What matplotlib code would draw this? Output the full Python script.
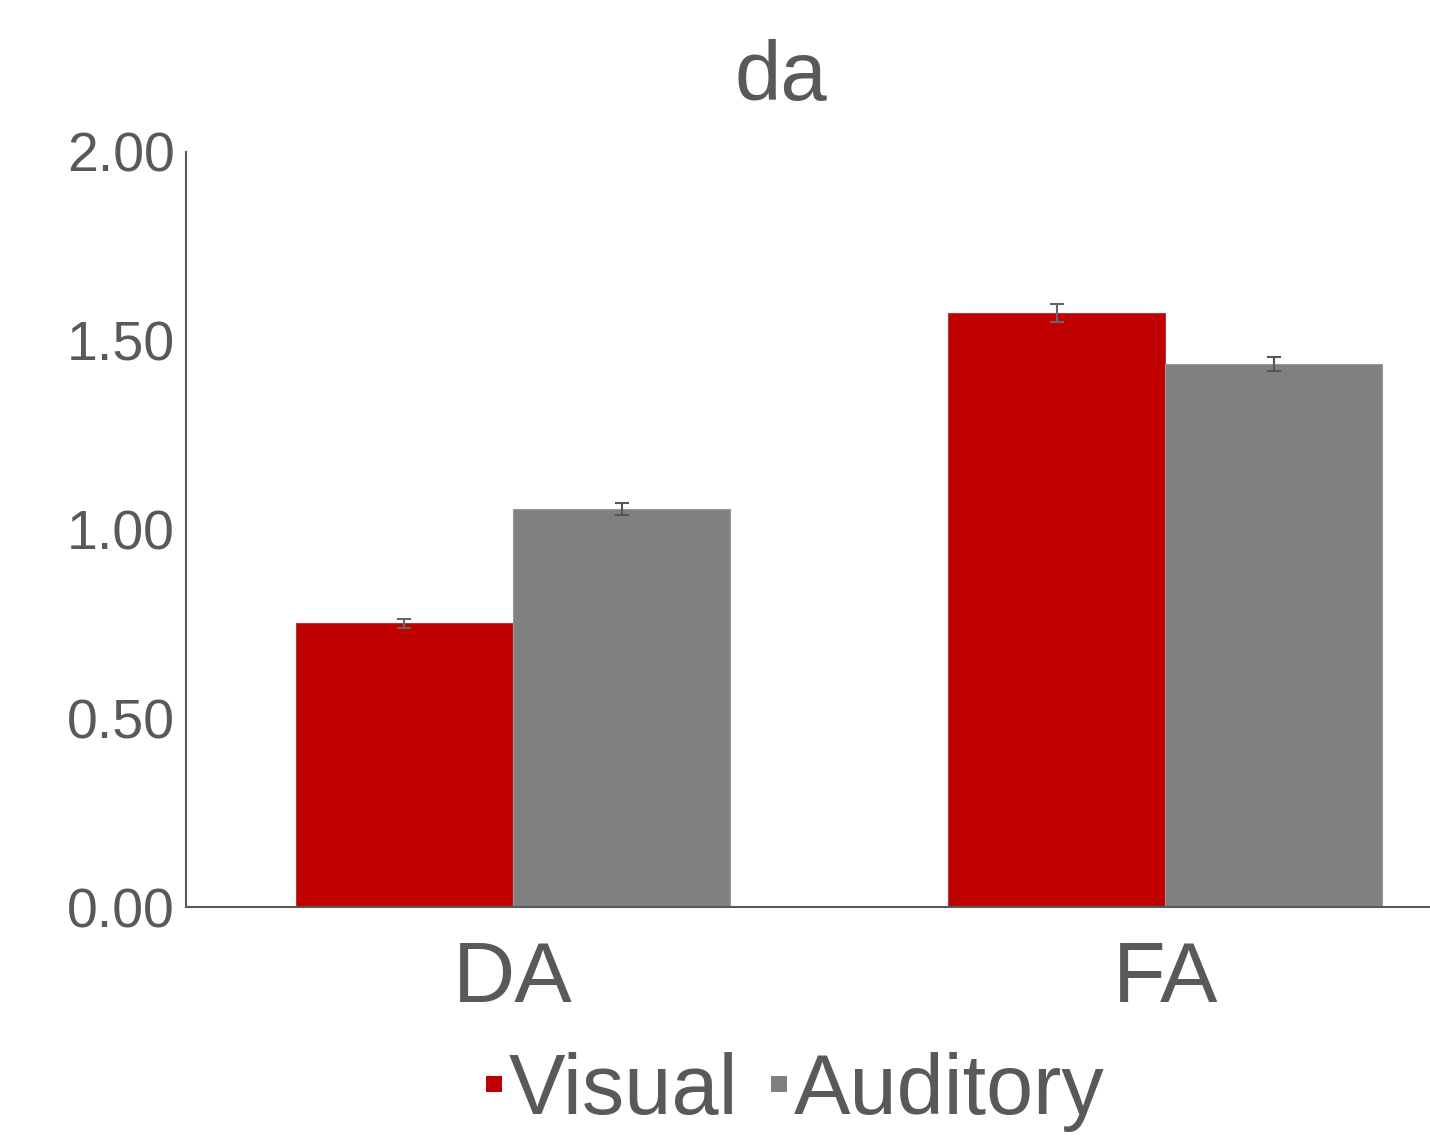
import matplotlib
matplotlib.use("Agg")
import matplotlib.pyplot as plt
from matplotlib.lines import Line2D
import numpy as np

categories = ["DA", "FA"]
series_names = ["Visual", "Auditory"]
visual = [0.752, 1.574]
auditory = [1.054, 1.438]
visual_err = [0.012, 0.024]
auditory_err = [0.016, 0.019]
yticks = [0.0, 0.5, 1.0, 1.5, 2.0]
ytick_labels = ["0.00", "0.50", "1.00", "1.50", "2.00"]
title = "da"

red = "#C00000"
gray = "#808080"
txt = "#595959"

plt.rcParams['font.family'] = ['Liberation Sans', 'DejaVu Sans']

fig = plt.figure(figsize=(14.30, 11.36), dpi=100)
ax = fig.add_axes([186/1430, 1-907/1136, 1-186/1430, (907-152)/1136])

x = np.arange(len(categories))
w = 0.333
ax.bar(x - w/2, visual, width=w, color=red, edgecolor="#a04040", linewidth=0.8, zorder=2)
ax.bar(x + w/2, auditory, width=w, color=gray, edgecolor="#9a9a9a", linewidth=0.8, zorder=2)
ax.errorbar(x - w/2, visual, yerr=visual_err, fmt="none", ecolor="#666666",
            elinewidth=1.5, capsize=5, capthick=1.5, zorder=3)
ax.errorbar(x + w/2, auditory, yerr=auditory_err, fmt="none", ecolor="#555555",
            elinewidth=1.5, capsize=5, capthick=1.5, zorder=3)

ax.set_xlim(-0.5015, 1.406)
ax.set_ylim(0, 2.0)
ax.set_yticks(yticks)
ax.set_yticklabels(ytick_labels)
ax.set_xticks(x)
ax.set_xticklabels(categories)
ax.tick_params(axis='y', length=0, pad=8, labelsize=40, labelcolor=txt)
ax.tick_params(axis='x', length=0, pad=24, labelsize=62, labelcolor=txt)
for s in ["top", "right"]:
    ax.spines[s].set_visible(False)
for s in ["left", "bottom"]:
    ax.spines[s].set_color("#595959")
    ax.spines[s].set_linewidth(1.5)

fig.text(781/1430, 1-78/1136, title, ha="center", va="center", fontsize=60, color=txt)

handles = [Line2D([], [], marker="s", linestyle="none", markersize=12, color=red, markeredgewidth=0),
           Line2D([], [], marker="s", linestyle="none", markersize=12, color=gray, markeredgewidth=0)]
leg = fig.legend(handles, series_names, loc="center", bbox_to_anchor=(794/1430, 1-1092/1136),
                 ncol=2, frameon=False, fontsize=61, handlelength=0.25, handletextpad=0.05,
                 columnspacing=0.35, borderpad=0, borderaxespad=0)
for t in leg.get_texts():
    t.set_color(txt)

fig.savefig("out.png", dpi=100)
